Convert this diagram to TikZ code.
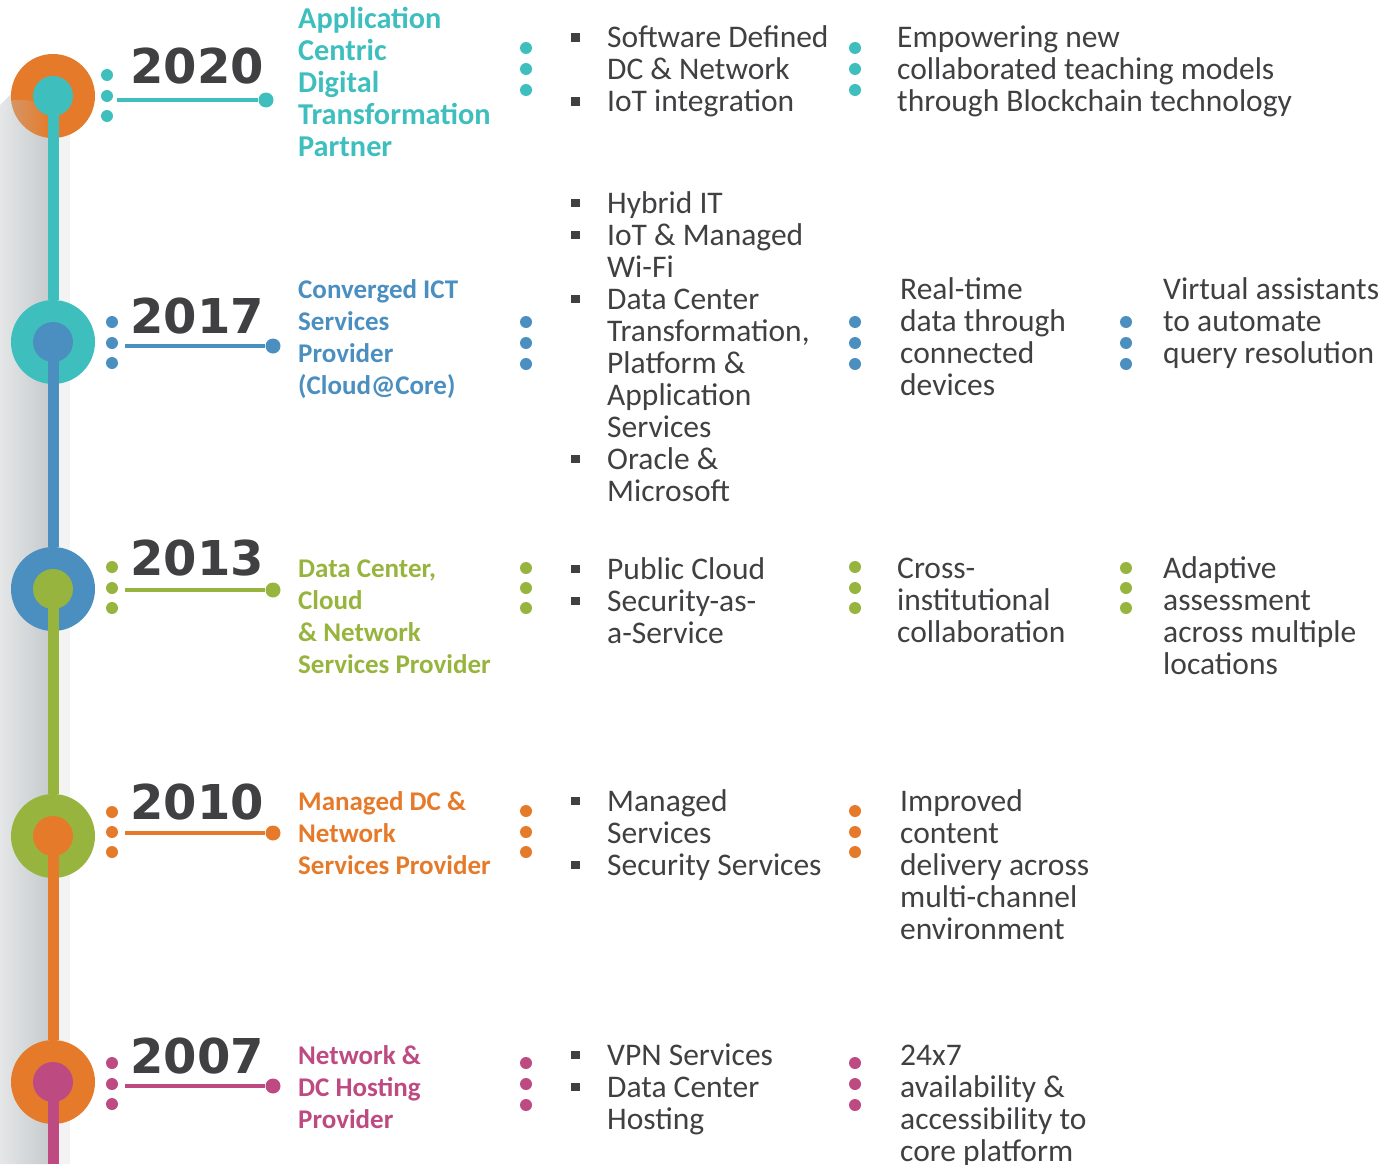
\documentclass[tikz,border=0pt]{standalone}
\usepackage{fontspec}
\setmainfont{Carlito}
\newfontfamily\yearfont{DejaVu Sans}
\usepackage{xcolor}
\definecolor{tealc}{RGB}{62,191,190}
\definecolor{bluec}{RGB}{74,143,192}
\definecolor{greenc}{RGB}{151,181,62}
\definecolor{orangec}{RGB}{229,123,42}
\definecolor{magentac}{RGB}{190,74,130}
\definecolor{darktext}{RGB}{64,64,66}
\definecolor{shadowlight}{RGB}{228,230,231}
\definecolor{shadowdark}{RGB}{200,204,206}
\definecolor{shadowstrip}{RGB}{243,243,243}

\newcommand{\stack}[1]{\begin{tabular}[t]{@{}l@{}}#1\end{tabular}}
\newcommand{\sqb}{\makebox[36pt][l]{\rule[6pt]{8.5pt}{8.5pt}}}

\tikzset{
	outer/.style={circle, minimum size=84pt, inner sep=0pt},
	inner/.style={circle, minimum size=40pt, inner sep=0pt},
	spine/.style={line width=11pt},
	link/.style={line width=4pt},
	enddot/.style={circle, minimum size=15pt, inner sep=0pt},
	year/.style={anchor=base, inner sep=0pt, text=darktext, font=\yearfont\bfseries\fontsize{48}{48}\selectfont},
	title/.style={anchor=base west, inner sep=0pt, font=\bfseries\fontsize{27}{32}\selectfont},
	body/.style={anchor=base west, inner sep=0pt, text=darktext, font=\fontsize{31.5}{32}\selectfont},
}

\begin{document}
\begin{tikzpicture}[x=1pt,y=-1pt]
		\useasboundingbox (0,0) rectangle (1386,1164);
		
		% shadow band
		\shade[left color=shadowlight, right color=shadowdark] (0,1164) -- (0,105) -- (30,75) -- (48,75) -- (48,1164) -- cycle;
		\fill[shadowstrip] (59,125) rectangle (70,1164);
		
		% circles
		\node[outer, fill=orangec] (c2020) at (53,96) {};
		\node[outer, fill=tealc] (c2017) at (53,342) {};
		\node[outer, fill=bluec] (c2013) at (53,589) {};
		\node[outer, fill=greenc] (c2010) at (53,836) {};
		\node[outer, fill=orangec] (c2007) at (53,1082) {};
		
		% shadow over the first circle
		\begin{scope}
			\clip (53,96) circle (42);
			\shade[left color=black!25, right color=orangec, opacity=0.5] (0,104) .. controls (20,96) and (40,100) .. (50,112) -- (50,140) -- (0,140) -- cycle;
		\end{scope}
		
		% spine
		\coordinate (bottom) at (53,1164);
		\draw[spine, tealc] (c2020.center) -- (c2017.north);
		\draw[spine, bluec] (c2017.center) -- (c2013.north);
		\draw[spine, greenc] (c2013.center) -- (c2010.north);
		\draw[spine, orangec] (c2010.center) -- (c2007.north);
		\draw[spine, magentac] (c2007.center) -- (bottom);
		
		\node[inner, fill=tealc] (i2020) at (c2020) {};
		\node[inner, fill=bluec] (i2017) at (c2017) {};
		\node[inner, fill=greenc] (i2013) at (c2013) {};
		\node[inner, fill=orangec] (i2010) at (c2010) {};
		\node[inner, fill=magentac] (i2007) at (c2007) {};
		
		% dots next to the circles
		\fill[tealc] (107,75) circle (6) (107,96) circle (6) (107,116) circle (6);
		\fill[bluec] (112,322) circle (6) (112,343) circle (6) (112,363) circle (6);
		\fill[greenc] (112,567) circle (6) (112,588) circle (6) (112,608) circle (6);
		\fill[orangec] (112,812) circle (6) (112,832) circle (6) (112,852) circle (6);
		\fill[magentac] (112,1063) circle (6) (112,1084) circle (6) (112,1104) circle (6);
		
		% year links
		\coordinate (s2020) at (117,100);
		\coordinate (s2017) at (125,346);
		\coordinate (s2013) at (125,590);
		\coordinate (s2010) at (125,833);
		\coordinate (s2007) at (125,1086);
		\node[enddot, fill=tealc] (e2020) at (266,100) {};
		\node[enddot, fill=bluec] (e2017) at (273,346) {};
		\node[enddot, fill=greenc] (e2013) at (273,590) {};
		\node[enddot, fill=orangec] (e2010) at (273,833) {};
		\node[enddot, fill=magentac] (e2007) at (273,1086) {};
		\draw[link, tealc] (s2020) -- (e2020);
		\draw[link, bluec] (s2017) -- (e2017);
		\draw[link, greenc] (s2013) -- (e2013);
		\draw[link, orangec] (s2010) -- (e2010);
		\draw[link, magentac] (s2007) -- (e2007);
		
		% years
		\node[year] (y2020) at (197,83) {2020};
		\node[year] (y2017) at (197,333) {2017};
		\node[year] (y2013) at (197,575) {2013};
		\node[year] (y2010) at (197,819) {2010};
		\node[year] (y2007) at (197,1073) {2007};
		
		% titles
		\node[title, tealc, font=\bfseries\fontsize{30.3}{32}\selectfont] (t2020) at (298,29) {\stack{Application\\Centric\\Digital\\Transformation\\Partner}};
		\node[title, bluec] (t2017) at (298,298) {\stack{Converged ICT\\Services\\Provider\\(Cloud@Core)}};
		\node[title, greenc] (t2013) at (298,577) {\stack{Data Center,\\Cloud\\\& Network\\Services Provider}};
		\node[title, orangec] (t2010) at (298,810) {\stack{Managed DC \&\\Network\\Services Provider}};
		\node[title, magentac] (t2007) at (298,1064) {\stack{Network \&\\DC Hosting\\Provider}};
		
		% first column
		\fill[tealc] (526,48) circle (6) (526,69) circle (6) (526,90) circle (6);
		\fill[bluec] (526,322) circle (6) (526,343) circle (6) (526,364) circle (6);
		\fill[greenc] (526,568) circle (6) (526,588) circle (6) (526,608) circle (6);
		\fill[orangec] (526,811) circle (6) (526,832) circle (6) (526,852) circle (6);
		\fill[magentac] (526,1063) circle (6) (526,1084) circle (6) (526,1105) circle (6);
		
		\node[body] (l2020) at (571,48) {\begin{tabular}[t]{@{}l@{}l@{}}\sqb & Software Defined\\ & DC \& Network\\ \sqb & IoT integration\end{tabular}};
		\node[body] (l2017) at (571,213) {\begin{tabular}[t]{@{}l@{}l@{}}\sqb & Hybrid IT\\ \sqb & IoT \& Managed\\ & Wi-Fi\\ \sqb & Data Center\\ & Transformation,\\ & Platform \&\\ & Application\\ & Services\\ \sqb & Oracle \&\\ & Microsoft\end{tabular}};
		\node[body] (l2013) at (571,579) {\begin{tabular}[t]{@{}l@{}l@{}}\sqb & Public Cloud\\ \sqb & Security-as-\\ & a-Service\end{tabular}};
		\node[body] (l2010) at (571,811) {\begin{tabular}[t]{@{}l@{}l@{}}\sqb & Managed\\ & Services\\ \sqb & Security Services\end{tabular}};
		\node[body] (l2007) at (571,1065) {\begin{tabular}[t]{@{}l@{}l@{}}\sqb & VPN Services\\ \sqb & Data Center\\ & Hosting\end{tabular}};
		
		% second column
		\fill[tealc] (855,48) circle (6) (855,69) circle (6) (855,90) circle (6);
		\fill[bluec] (855,322) circle (6) (855,343) circle (6) (855,364) circle (6);
		\fill[greenc] (855,567) circle (6) (855,588) circle (6) (855,608) circle (6);
		\fill[orangec] (855,811) circle (6) (855,832) circle (6) (855,852) circle (6);
		\fill[magentac] (855,1063) circle (6) (855,1084) circle (6) (855,1105) circle (6);
		
		\node[body] (m2020) at (897,48) {\stack{Empowering new\\collaborated teaching models\\through Blockchain technology}};
		\node[body] (m2017) at (900,299) {\stack{Real-time\\data through\\connected\\devices}};
		\node[body] (m2013) at (897,578) {\stack{Cross-\\institutional\\collaboration}};
		\node[body] (m2010) at (900,811) {\stack{Improved\\content\\delivery across\\multi-channel\\environment}};
		\node[body] (m2007) at (900,1065) {\stack{24x7\\availability \&\\accessibility to\\core platform}};
		
		% third column
		\fill[bluec] (1126,322) circle (6) (1126,343) circle (6) (1126,364) circle (6);
		\fill[greenc] (1126,568) circle (6) (1126,588) circle (6) (1126,608) circle (6);
		
		\node[body] (r2017) at (1163,299) {\stack{Virtual assistants\\to automate\\query resolution}};
		\node[body] (r2013) at (1163,578) {\stack{Adaptive\\assessment\\across multiple\\locations}};
		
	\end{tikzpicture}
\end{document}
